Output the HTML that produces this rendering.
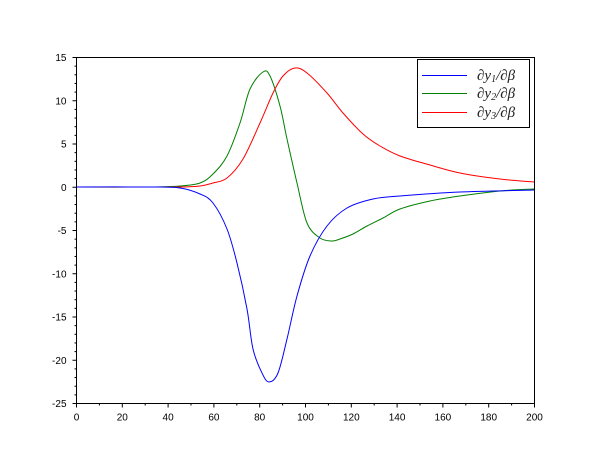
<!DOCTYPE html>
<html><head><meta charset="utf-8"><style>body{margin:0;background:#fff}svg{display:block}text{font-family:"Liberation Sans",sans-serif;font-size:10px}text.lg{font-family:"Liberation Serif",serif;font-style:italic;font-size:15px;fill:#222}text.lg tspan.s{font-size:10px}</style></head>
<body>
<svg id="s" width="610" height="460" xmlns="http://www.w3.org/2000/svg">
<rect x="0" y="0" width="610" height="460" fill="#fff"/>
<g id="ticks" stroke="#000" stroke-width="1"></g>
<g id="labels" fill="#000"></g>
<g transform="translate(0,1)">
<path id="g" fill="none" stroke="#008000" stroke-width="1"/>
<path id="r" fill="none" stroke="#ff0000" stroke-width="1"/>
<path id="b" fill="none" stroke="#0000ff" stroke-width="1"/>
</g>
<rect x="76.5" y="57.5" width="458" height="346" fill="none" stroke="#000"/>
<rect x="417.5" y="59.5" width="112" height="68" fill="#fff" stroke="#000"/>
<line x1="422" y1="75.5" x2="467" y2="75.5" stroke="#0000ff"/>
<line x1="422" y1="93.5" x2="467" y2="93.5" stroke="#008000"/>
<line x1="422" y1="112.5" x2="467" y2="112.5" stroke="#ff0000"/>
<text class="lg" x="477" y="80">∂y<tspan class="s" dy="2">1</tspan><tspan dy="-2">/∂β</tspan></text>
<text class="lg" x="477" y="98">∂y<tspan class="s" dy="2">2</tspan><tspan dy="-2">/∂β</tspan></text>
<text class="lg" x="477" y="117">∂y<tspan class="s" dy="2">3</tspan><tspan dy="-2">/∂β</tspan></text>
</svg>
<script>
var NS="http://www.w3.org/2000/svg";
function el(t,a,p,txt){var e=document.createElementNS(NS,t);for(var k in a)e.setAttribute(k,a[k]);if(txt!==undefined)e.textContent=txt;document.getElementById(p).appendChild(e);}
var L=76.5,R=534.5,T=57.5,B=403.5;
for(var i=0;i<=20;i++){var x=L+(R-L)*i/20,len=i%2==0?4:2;
 el('line',{x1:x,y1:B,x2:x,y2:B+len},'ticks');
 if(i%2==0)el('text',{x:x,y:B+17,'text-anchor':'middle'},'labels',String(i*10));}
for(var i=0;i<=40;i++){var y=T+(B-T)*i/40,len=i%5==0?4:2;
 el('line',{x1:L,y1:y,x2:L-len,y2:y},'ticks');
 if(i%5==0)el('text',{x:L-10,y:y+3.5,'text-anchor':'end'},'labels',String(15-i));}
function path(pts){var d="M"+pts[0][0]+","+pts[0][1];
 for(var i=0;i<pts.length-1;i++){var p0=pts[Math.max(0,i-1)],p1=pts[i],p2=pts[i+1],p3=pts[Math.min(pts.length-1,i+2)];
 d+=" C"+(p1[0]+(p2[0]-p0[0])/6)+","+(p1[1]+(p2[1]-p0[1])/6)+" "+(p2[0]-(p3[0]-p1[0])/6)+","+(p2[1]-(p3[1]-p1[1])/6)+" "+p2[0]+","+p2[1];}
 return d;}
var g=[[77,186],[150,186],[180,185],[200,182],[213,173],[227,155],[240,122],[250,88],[263,71],[270,75],[280,105],[287,138],[297,182],[307,222],[320,237],[332,240],[340,238],[353,233],[367,225],[383,217],[400,208],[430,200],[460,195],[500,190],[534,188]];
var r=[[77,186],[150,186],[180,186],[200,185],[213,182],[227,177],[243,158],[260,122],[273,92],[283,75],[295,67],[307,72],[327,92],[343,112],[363,133],[380,145],[400,155],[430,164],[460,172],[500,178],[534,181]];
var b=[[77,186],[150,186],[180,187],[200,193],[213,202],[227,228],[237,262],[247,308],[253,348],[262,372],[269,381],[278,372],[287,338],[297,295],[310,255],[327,225],[347,207],[373,198],[400,195],[460,191],[534,189]];
document.getElementById('g').setAttribute('d',path(g));
document.getElementById('r').setAttribute('d',path(r));
document.getElementById('b').setAttribute('d',path(b));
</script>
</body></html>
